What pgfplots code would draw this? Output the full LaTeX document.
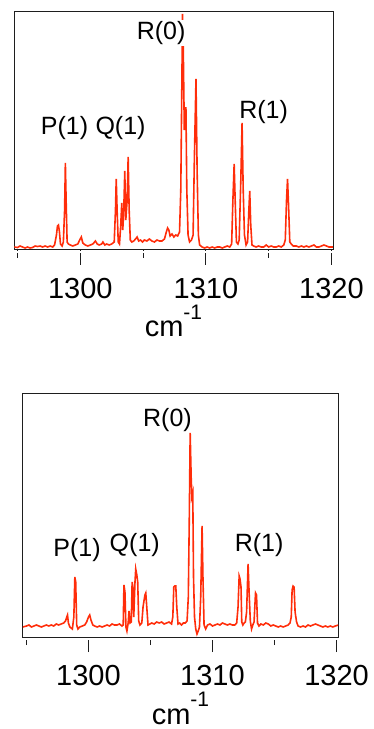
\documentclass[border=0pt]{standalone}
\usepackage{pgfplots}
\pgfplotsset{compat=1.18}
\usepackage{fontspec}
\setmainfont{Liberation Sans}
\definecolor{spec}{RGB}{255,45,10}
\definecolor{frame}{RGB}{30,30,30}
\pgfplotsset{
  myax/.style={
    scale only axis, anchor=south west,
    xmin=1294.72, xmax=1320.12, ymin=0,
    axis line style={frame, line width=1pt},
    xtick={1300,1310,1320}, minor xtick={1295,1305,1315},
    xtick pos=left, ytick=\empty,
    tick align=outside,
    major tick length=15pt, minor tick length=8pt,
    every tick/.style={frame, line width=1pt},
    /pgf/number format/assume math mode=true,
    /pgf/number format/1000 sep={},
    tick label style={font=\fontsize{29}{29}\selectfont, text=black, yshift=-10pt},
    xlabel={cm\raisebox{0.6em}{\fontsize{21}{21}\selectfont -1}},
    xlabel style={font=\fontsize{29}{29}\selectfont, at={(axis description cs:0.5,0)}, anchor=base, yshift=-87pt, inner sep=0pt},
    clip=true,
  },
}
\tikzset{lab/.style={font=\fontsize{25}{25}\selectfont, text=black, inner sep=1pt}}
\begin{document}
\begin{tikzpicture}
\useasboundingbox (0,0) rectangle (374pt,729pt);
% ---------------- top panel ----------------
\begin{axis}[myax, name=top, at={(14pt,479pt)}, width=319pt, height=238pt, ymax=238]
\addplot[spec, line width=1.6pt] coordinates {
(1294.75,3) (1295.0,2.5) (1295.2,4) (1295.4,3) (1295.6,2) (1295.8,3) (1296.0,2) (1296.2,2.5)
(1296.4,4) (1296.6,3.5) (1296.8,4) (1297.0,3) (1297.2,4) (1297.4,3) (1297.6,4) (1297.8,3)
(1297.95,5) (1298.1,15) (1298.18,24) (1298.26,25) (1298.34,18) (1298.42,6) (1298.55,4)
(1298.65,8) (1298.75,40) (1298.81,87) (1298.87,50) (1298.95,8) (1299.05,6) (1299.2,5)
(1299.4,4) (1299.6,5) (1299.8,6) (1299.95,10) (1300.08,13) (1300.2,7) (1300.4,5) (1300.6,4)
(1300.8,5) (1301.0,6) (1301.2,9) (1301.35,6) (1301.5,5) (1301.7,6) (1301.8,8) (1301.95,5)
(1302.1,6) (1302.3,5) (1302.5,6) (1302.7,8) (1302.8,40) (1302.86,71) (1302.93,40) (1303.02,8)
(1303.12,6) (1303.22,25) (1303.3,47) (1303.38,20) (1303.46,40) (1303.54,79) (1303.62,30)
(1303.73,50) (1303.81,93) (1303.89,40) (1303.98,10) (1304.1,8) (1304.25,9) (1304.4,11)
(1304.52,13) (1304.65,9) (1304.8,10) (1304.95,8) (1305.1,10) (1305.3,9) (1305.5,11) (1305.7,9)
(1305.9,8) (1306.1,10) (1306.3,9) (1306.5,9) (1306.7,11) (1306.85,18) (1306.95,22) (1307.05,20)
(1307.15,14) (1307.3,16) (1307.45,13) (1307.6,15) (1307.75,14) (1307.9,18) (1308.0,60)
(1308.08,160) (1308.14,236) (1308.2,200) (1308.28,120) (1308.35,142) (1308.41,142) (1308.48,60)
(1308.58,15) (1308.7,8) (1308.85,10) (1308.98,15) (1309.08,90) (1309.21,171) (1309.3,80)
(1309.4,15) (1309.5,5) (1309.7,3) (1309.9,2) (1310.1,3) (1310.3,2) (1310.5,3) (1310.7,2)
(1310.9,3) (1311.1,3) (1311.3,2) (1311.5,3) (1311.7,4) (1311.9,3) (1312.05,6) (1312.15,50)
(1312.25,86) (1312.33,50) (1312.43,8) (1312.55,6) (1312.65,10) (1312.78,70) (1312.88,127)
(1312.97,60) (1313.07,15) (1313.2,5) (1313.32,8) (1313.42,40) (1313.49,59) (1313.57,25)
(1313.67,5) (1313.8,4) (1314.0,3) (1314.2,4) (1314.4,3) (1314.6,3) (1314.8,5) (1315.0,3)
(1315.2,4) (1315.4,3) (1315.6,3) (1315.8,4) (1316.0,3) (1316.2,5) (1316.32,10) (1316.42,50)
(1316.5,71) (1316.58,45) (1316.68,8) (1316.8,6) (1316.95,4) (1317.2,4) (1317.4,3) (1317.6,4)
(1317.8,3) (1318.0,4) (1318.2,3) (1318.4,4) (1318.6,5) (1318.8,3) (1319.0,3) (1319.2,4)
(1319.4,5) (1319.6,4) (1319.8,3) (1320.1,3)
};
\node[lab] at (axis cs:1298.75,122) {P(1)};
\node[lab] at (axis cs:1303.2,122) {Q(1)};
\node[lab, fill=white] at (axis cs:1306.43,217) {R(0)};
\node[lab] at (axis cs:1314.6,138) {R(1)};
\end{axis}
\draw[white, line width=2.4pt] ([yshift=-1.8pt]top.south west) -- ([yshift=-1.8pt]top.south east);
% ---------------- bottom panel ----------------
\begin{axis}[myax, name=bot, at={(23pt,92pt)}, width=315pt, height=243pt, ymax=243]
\addplot[spec, line width=1.6pt] coordinates {
(1294.7,10) (1295.0,11) (1295.2,12) (1295.4,10) (1295.6,11) (1295.8,12) (1296.0,11) (1296.2,10)
(1296.4,11) (1296.6,12) (1296.8,11) (1297.0,12) (1297.2,11) (1297.4,13) (1297.6,12) (1297.8,13)
(1298.0,14) (1298.15,16) (1298.25,20) (1298.31,22) (1298.38,14) (1298.5,10) (1298.6,9)
(1298.7,8) (1298.82,20) (1298.9,60) (1298.97,55) (1299.05,12) (1299.15,8) (1299.3,10)
(1299.5,11) (1299.7,12) (1299.85,15) (1300.0,20) (1300.1,22) (1300.2,17) (1300.35,12)
(1300.5,11) (1300.7,10) (1300.9,11) (1301.1,10) (1301.3,11) (1301.5,12) (1301.7,11) (1301.9,13)
(1302.1,12) (1302.3,12) (1302.5,13) (1302.7,11) (1302.8,12) (1302.86,52) (1302.94,45)
(1303.02,10) (1303.1,6) (1303.2,14) (1303.27,26) (1303.35,14) (1303.45,15) (1303.52,55)
(1303.58,50) (1303.65,20) (1303.75,55) (1303.81,68) (1303.9,62) (1303.97,55) (1304.05,16)
(1304.15,12) (1304.3,14) (1304.4,30) (1304.45,34) (1304.55,42) (1304.62,44) (1304.7,30)
(1304.8,12) (1304.95,13) (1305.1,14) (1305.3,13) (1305.5,15) (1305.7,14) (1305.9,15)
(1306.1,13) (1306.3,14) (1306.5,15) (1306.7,13) (1306.8,20) (1306.88,50) (1306.96,51)
(1307.04,51) (1307.12,30) (1307.22,13) (1307.35,14) (1307.5,12) (1307.65,14) (1307.8,14)
(1307.95,16) (1308.05,40) (1308.13,120) (1308.2,204) (1308.28,160) (1308.34,140) (1308.41,144)
(1308.47,60) (1308.55,20) (1308.65,8) (1308.75,3) (1308.85,6) (1308.95,10) (1309.05,40)
(1309.16,111) (1309.23,60) (1309.32,12) (1309.45,8) (1309.6,12) (1309.8,13) (1310.0,11)
(1310.2,12) (1310.4,13) (1310.6,12) (1310.8,14) (1311.0,13) (1311.2,12) (1311.4,13) (1311.6,12)
(1311.8,12) (1311.95,14) (1312.06,30) (1312.15,61) (1312.22,58) (1312.3,50) (1312.36,15)
(1312.45,12) (1312.55,14) (1312.65,15) (1312.75,25) (1312.87,73) (1312.95,45) (1313.05,16)
(1313.15,8) (1313.25,12) (1313.35,15) (1313.47,44) (1313.55,42) (1313.63,14) (1313.75,11)
(1313.9,13) (1314.1,12) (1314.3,14) (1314.5,13) (1314.7,11) (1314.9,12) (1315.1,11) (1315.3,10)
(1315.5,11) (1315.7,10) (1315.9,11) (1316.1,12) (1316.25,14) (1316.35,20) (1316.42,47)
(1316.5,51) (1316.58,50) (1316.66,25) (1316.78,15) (1316.9,11) (1317.1,10) (1317.3,11)
(1317.5,10) (1317.7,12) (1317.9,11) (1318.1,12) (1318.3,13) (1318.5,12) (1318.7,11) (1318.9,10)
(1319.1,11) (1319.3,10) (1319.5,11) (1319.7,10) (1319.9,11) (1320.15,12)
};
\node[lab] at (axis cs:1299.08,87) {P(1)};
\node[lab] at (axis cs:1303.73,92) {Q(1)};
\node[lab] at (axis cs:1306.37,217) {R(0)};
\node[lab] at (axis cs:1313.76,92) {R(1)};
\end{axis}
\draw[white, line width=2.4pt] ([yshift=-1.8pt]bot.south west) -- ([yshift=-1.8pt]bot.south east);
\end{tikzpicture}
\end{document}
